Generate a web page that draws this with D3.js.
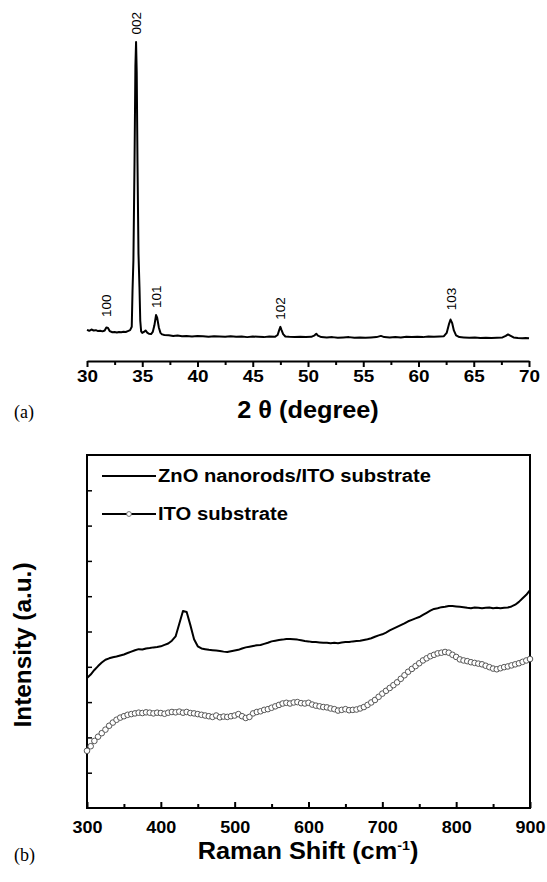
<!DOCTYPE html>
<html><head><meta charset="utf-8">
<script src="https://cdn.jsdelivr.net/npm/d3@7/dist/d3.min.js"></script>
<style>body{margin:0;background:#fff}svg{display:block}</style>
</head><body>
<svg id="c" width="547" height="882"></svg>
<script>
// ---------- Panel (a): XRD ----------
const xrdAngle = [30.0,30.2,30.4,30.6,30.8,31.0,31.2,31.4,31.6,31.75,31.9,32.05,32.3,32.5,32.7,32.9,33.1,33.3,33.5,33.7,33.9,
34.05,34.12,34.2,34.3,34.38,34.44,34.5,34.57,34.66,34.75,34.82,34.9,35.0,35.15,35.3,35.45,35.6,35.8,35.95,36.1,36.25,36.35,36.5,36.65,36.8,
37.0,37.4,37.8,38.2,38.6,39.0,39.5,40.0,40.5,41.0,41.5,42.0,42.5,43.0,43.5,44.0,44.5,45.0,45.5,46.0,46.5,47.0,47.25,47.4,47.5,47.6,47.75,47.95,
48.3,48.8,49.3,49.8,50.3,50.6,50.75,50.9,51.2,51.7,52.2,52.7,53.2,53.7,54.2,54.7,55.2,55.7,56.2,56.6,56.9,57.4,57.9,58.4,58.9,59.4,59.9,
60.4,60.9,61.4,61.9,62.3,62.55,62.75,62.9,63.05,63.2,63.4,63.7,64.1,64.6,65.1,65.6,66.1,66.6,67.1,67.6,67.9,68.1,68.3,68.6,69.0,69.4,69.7,70.0];
const xrdIntensity = [5.0,4.7,5.1,4.8,4.9,4.6,4.7,4.5,4.8,5.8,5.6,4.6,4.2,4.3,4.1,4.3,4.2,4.4,4.3,4.6,4.9,
6,18,28,60,92,100,90,60,30,19,8,4.5,4.0,4.3,4.8,4.1,3.7,3.6,4.3,6.5,9.9,9.0,5.8,4.0,3.5,
3.3,3.2,3.0,3.1,2.9,3.0,2.8,3.0,2.9,2.7,2.9,2.8,2.7,2.9,2.7,2.8,2.6,2.8,2.7,2.6,2.8,2.7,3.3,5.0,6.0,5.0,3.6,2.8,
2.7,2.6,2.7,2.6,2.7,3.2,3.7,3.1,2.6,2.5,2.6,2.4,2.5,2.6,2.4,2.5,2.4,2.5,2.6,3.0,2.6,2.5,2.6,2.5,2.7,2.6,2.7,
2.6,2.8,2.7,2.8,2.9,4.0,6.8,8.4,7.2,4.8,3.2,2.6,2.5,2.4,2.5,2.3,2.4,2.3,2.4,2.5,3.0,3.5,3.1,2.5,2.3,2.2,2.3,2.2];
const peakLabels = ["100","002","101","102","103"];
const peakAngles = [31.75,34.44,36.25,47.5,62.9];
const peakLabelIntensity = [9.2,102.5,12.2,8.3,11.5];
const xrdTicks = [30,35,40,45,50,55,60,65,70];
const xrdMinorTicks = [32.5,37.5,42.5,47.5,52.5,57.5,62.5,67.5];

// ---------- Panel (b): Raman ----------
const ramanShift = [300,305,310,315,320,325,330,335,340,345,350,355,360,365,370,375,380,385,390,395,
400,405,410,415,420,425,430,435,440,445,450,455,460,465,470,475,480,485,490,495,
500,505,510,515,520,525,530,535,540,545,550,555,560,565,570,575,580,585,590,595,
600,605,610,615,620,625,630,635,640,645,650,655,660,665,670,675,680,685,690,695,
700,705,710,715,720,725,730,735,740,745,750,755,760,765,770,775,780,785,790,795,
800,805,810,815,820,825,830,835,840,845,850,855,860,865,870,875,880,885,890,895,900];
const znoIntensity = [3.68,3.78,3.91,4.02,4.12,4.20,4.24,4.27,4.29,4.32,4.35,4.39,4.43,4.47,4.50,4.49,4.52,4.53,4.55,4.56,
4.58,4.62,4.66,4.74,4.86,5.22,5.58,5.55,5.18,4.78,4.58,4.52,4.50,4.48,4.47,4.46,4.45,4.43,4.42,4.44,
4.46,4.48,4.52,4.55,4.57,4.59,4.61,4.62,4.65,4.68,4.72,4.74,4.76,4.77,4.79,4.79,4.78,4.77,4.75,4.73,
4.72,4.70,4.70,4.69,4.68,4.68,4.67,4.68,4.67,4.69,4.70,4.70,4.72,4.73,4.74,4.76,4.78,4.81,4.85,4.89,
4.92,4.97,5.03,5.08,5.13,5.18,5.23,5.29,5.33,5.37,5.41,5.47,5.53,5.59,5.64,5.66,5.69,5.70,5.72,5.72,
5.71,5.70,5.69,5.67,5.66,5.68,5.67,5.66,5.67,5.68,5.66,5.67,5.66,5.67,5.68,5.71,5.76,5.84,5.94,6.04,6.17];
const itoIntensity = [1.62,1.75,1.90,2.02,2.12,2.22,2.33,2.42,2.50,2.56,2.60,2.64,2.66,2.68,2.70,2.69,2.71,2.70,2.68,2.70,
2.69,2.67,2.70,2.72,2.71,2.73,2.70,2.72,2.69,2.68,2.66,2.64,2.62,2.60,2.58,2.62,2.57,2.59,2.58,2.60,
2.62,2.66,2.60,2.55,2.58,2.68,2.72,2.74,2.78,2.80,2.84,2.88,2.92,2.96,2.98,2.96,2.99,3.00,2.97,2.96,
2.98,2.93,2.90,2.88,2.86,2.85,2.82,2.80,2.76,2.78,2.80,2.77,2.78,2.79,2.82,2.86,2.92,2.99,3.06,3.15,
3.24,3.32,3.40,3.48,3.56,3.66,3.76,3.86,3.94,4.02,4.10,4.18,4.24,4.30,4.34,4.38,4.40,4.42,4.40,4.34,
4.28,4.21,4.18,4.16,4.13,4.11,4.09,4.07,4.03,3.99,3.95,3.93,3.96,3.99,4.01,4.04,4.07,4.10,4.14,4.18,4.22];
const seriesNames = ["ZnO nanorods/ITO substrate","ITO substrate"];
const ramanTicks = [300,400,500,600,700,800,900];
const ramanMinorTicks = [350,450,550,650,750,850];
const intensityTicks = [1,2,3,4,5,6,7,8,9];

const svg = d3.select("#c");
const FONT = "Liberation Sans, Arial, Helvetica, sans-serif";

// ===== Panel (a) =====
const xA = d3.scaleLinear().domain([30,70]).range([87,529]);
const yA = d3.scaleLinear().domain([0,100]).range([345,42]);
const axisYA = 361;

const gA = svg.append("g");
gA.append("g").attr("transform",`translate(0,${axisYA})`)
  .call(d3.axisBottom(xA).tickValues(xrdTicks).tickSize(6).tickSizeOuter(0).tickFormat(d3.format("d")))
  .call(g=>{
    g.select(".domain").attr("stroke","#000").attr("stroke-width",2.2);
    g.selectAll(".tick line").attr("stroke","#000").attr("stroke-width",2);
    g.selectAll(".tick text").attr("font-family",FONT).attr("font-weight","bold").attr("font-size",16)
      .attr("fill","#000").attr("dy","0.71em").attr("y",10)
      .attr("textLength",21).attr("lengthAdjust","spacingAndGlyphs");
  });
gA.append("g").attr("transform",`translate(0,${axisYA})`)
  .call(d3.axisBottom(xA).tickValues(xrdMinorTicks).tickSize(4).tickFormat(""))
  .call(g=>{g.select(".domain").remove();g.selectAll(".tick line").attr("stroke","#000").attr("stroke-width",2);});

const xrdData = xrdAngle.map((a,i)=>({x:a,y:xrdIntensity[i]}));
gA.append("path").datum(xrdData)
  .attr("fill","none").attr("stroke","#000").attr("stroke-width",2).attr("stroke-linejoin","round")
  .attr("d", d3.line().x(d=>xA(d.x)).y(d=>yA(d.y)));

gA.selectAll("text.peak").data(peakLabels).join("text").attr("class","peak")
  .attr("transform",(d,i)=>`translate(${xA(peakAngles[i])+5},${yA(peakLabelIntensity[i])}) rotate(-90)`)
  .attr("font-family",FONT).attr("font-size",13.5).attr("fill","#000").text(d=>d);

gA.append("text").attr("transform","translate(308,418) scale(1.1,1)").attr("text-anchor","middle")
  .attr("font-family",FONT).attr("font-weight","bold").attr("font-size",23).attr("fill","#000")
  .text("2 θ (degree)");
gA.append("text").attr("x",14).attr("y",418)
  .attr("font-family","Liberation Serif, Times New Roman, serif").attr("font-size",18).attr("fill","#000")
  .text("(a)");

// ===== Panel (b) =====
const xB = d3.scaleLinear().domain([300,900]).range([87,530]);
const yB = d3.scaleLinear().domain([0,10]).range([808,455]);
const gB = svg.append("g");

gB.append("rect").attr("x",87).attr("y",455).attr("width",530-87).attr("height",808-455)
  .attr("fill","none").attr("stroke","#000").attr("stroke-width",2);

gB.append("g").attr("transform","translate(0,808)")
  .call(d3.axisBottom(xB).tickValues(ramanTicks).tickSize(-6).tickSizeOuter(0).tickFormat(d3.format("d")))
  .call(g=>{
    g.select(".domain").remove();
    g.selectAll(".tick line").attr("stroke","#000").attr("stroke-width",2);
    g.selectAll(".tick text").attr("font-family",FONT).attr("font-weight","bold").attr("font-size",17)
      .attr("fill","#000").attr("y",13).attr("dy","0.71em")
      .attr("textLength",30).attr("lengthAdjust","spacingAndGlyphs");
  });
gB.append("g").attr("transform","translate(0,808)")
  .call(d3.axisBottom(xB).tickValues(ramanMinorTicks).tickSize(-4).tickFormat(""))
  .call(g=>{g.select(".domain").remove();g.selectAll(".tick line").attr("stroke","#000").attr("stroke-width",2);});
gB.append("g").attr("transform","translate(87,0)")
  .call(d3.axisLeft(yB).tickValues(intensityTicks).tickSize(-5).tickFormat(""))
  .call(g=>{g.select(".domain").remove();g.selectAll(".tick line").attr("stroke","#000").attr("stroke-width",1.5);});

const itoData = ramanShift.map((s,i)=>({x:s,y:itoIntensity[i]}));
const znoData = ramanShift.map((s,i)=>({x:s,y:znoIntensity[i]}));

gB.append("path").datum(itoData)
  .attr("fill","none").attr("stroke","#777").attr("stroke-width",1)
  .attr("d", d3.line().x(d=>xB(d.x)).y(d=>yB(d.y)));
gB.selectAll("circle.ito").data(itoData).join("circle").attr("class","ito")
  .attr("cx",d=>xB(d.x)).attr("cy",d=>yB(d.y)).attr("r",2.8)
  .attr("fill","#fff").attr("stroke","#555").attr("stroke-width",1);

gB.append("path").datum(znoData)
  .attr("fill","none").attr("stroke","#000").attr("stroke-width",2).attr("stroke-linejoin","round")
  .attr("d", d3.line().x(d=>xB(d.x)).y(d=>yB(d.y)));

// legend
const lg = gB.append("g");
lg.append("line").attr("x1",102).attr("x2",156).attr("y1",476).attr("y2",476).attr("stroke","#000").attr("stroke-width",2);
lg.append("text").attr("x",158).attr("y",482).attr("font-family",FONT).attr("font-weight","bold").attr("font-size",18)
  .attr("fill","#000").attr("textLength",273).attr("lengthAdjust","spacingAndGlyphs").text(seriesNames[0]);
lg.append("line").attr("x1",102).attr("x2",156).attr("y1",514).attr("y2",514).attr("stroke","#000").attr("stroke-width",2);
lg.append("circle").attr("cx",129).attr("cy",514).attr("r",2.4).attr("fill","#fff").attr("stroke","#666").attr("stroke-width",0.9);
lg.append("text").attr("x",158).attr("y",520).attr("font-family",FONT).attr("font-weight","bold").attr("font-size",18)
  .attr("fill","#000").attr("textLength",130).attr("lengthAdjust","spacingAndGlyphs").text(seriesNames[1]);

// axis titles
const xt = gB.append("text").attr("transform","translate(308,859) scale(1.1,1)").attr("text-anchor","middle")
  .attr("font-family",FONT).attr("font-weight","bold").attr("font-size",23).attr("fill","#000");
xt.append("tspan").text("Raman Shift (cm");
xt.append("tspan").attr("font-size",13).attr("dy",-9).text("-1");
xt.append("tspan").attr("dy",9).text(")");

gB.append("text").attr("transform","translate(31,645) rotate(-90)").attr("text-anchor","middle")
  .attr("font-family",FONT).attr("font-weight","bold").attr("font-size",24).attr("fill","#000")
  .attr("textLength",165).attr("lengthAdjust","spacingAndGlyphs")
  .text("Intensity (a.u.)");
gB.append("text").attr("x",14).attr("y",861)
  .attr("font-family","Liberation Serif, Times New Roman, serif").attr("font-size",18).attr("fill","#000")
  .text("(b)");
</script>
</body></html>
